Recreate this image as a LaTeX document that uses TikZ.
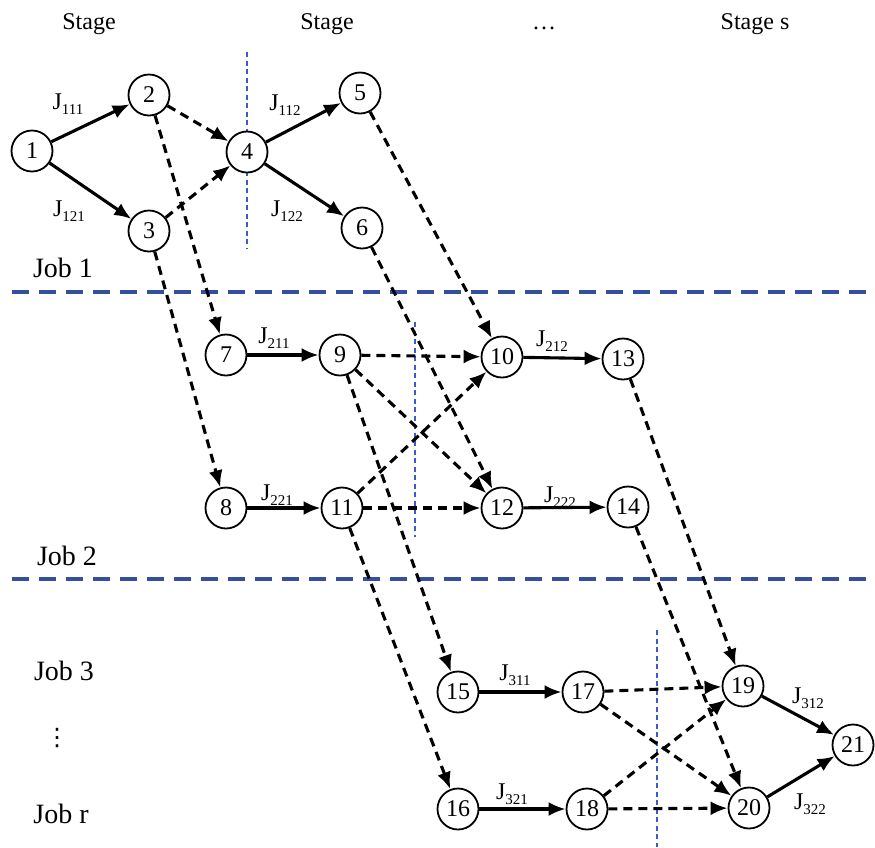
\documentclass[tikz,border=0pt]{standalone}
\usepackage{fontspec}
\setmainfont{Liberation Serif}
\newfontfamily\dotsfont{DejaVu Sans}
\usetikzlibrary{arrows.meta}
\definecolor{jobblue}{RGB}{52,78,160}
\definecolor{stageblue}{RGB}{60,90,200}
\newcommand{\jsub}[2]{#1\raisebox{-0.2em}{\fontsize{15}{15}\selectfont #2}}

\begin{document}
\begin{tikzpicture}[x=1pt,y=-1pt,font=\fontsize{24}{28}\selectfont,
			main node/.style={circle,draw,fill=white,line width=1.8pt,
				minimum size=41pt,inner sep=0pt},
			task/.style={-{Latex[length=17pt,width=14pt]},line width=3.1pt},
			wait/.style={task,dash pattern=on 9pt off 6pt},
			job/.style={anchor=base,font=\fontsize{28}{32}\selectfont},
			job line/.style={jobblue,line width=4.5pt,dash pattern=on 17pt off 10pt},
			stage line/.style={stageblue,line width=2pt,dash pattern=on 5pt off 3.5pt},
			lab/.style={inner sep=0pt}]
			
			\useasboundingbox (0,0) rectangle (875,847);
			
			% stage and job titles
			\node[anchor=base] (S1) at (89,29) {Stage};
			\node[anchor=base] (S2) at (327,29) {Stage};
			\node[anchor=base] (S3) at (544,29) {\ldots};
			\node[anchor=base] (Ss) at (755,29) {Stage s};
			\node[job] (J1) at (63,277) {Job 1};
			\node[job] (J2) at (67,565) {Job 2};
			\node[job] (J3) at (64,680) {Job 3};
			\node (Jd) at (57,738) {\dotsfont ⋮};
			\node[job] (Jr) at (61,823) {Job r};
			
			% separators
			\coordinate (H1a) at (12,292); \coordinate (H1b) at (866,292);
			\coordinate (H2a) at (12,579); \coordinate (H2b) at (866,579);
			\coordinate (V1a) at (247,52);  \coordinate (V1b) at (247,248);
			\coordinate (V2a) at (415,322); \coordinate (V2b) at (415,537);
			\coordinate (V3a) at (657,630); \coordinate (V3b) at (657,847);
			\draw[job line] (H1a) -- (H1b);
			\draw[job line] (H2a) -- (H2b);
			\draw[stage line] (V1a) -- (V1b);
			\draw[stage line] (V2a) -- (V2b);
			\draw[stage line] (V3a) -- (V3b);
			
			% operations
			\node[main node] (1) at (32,151) {1};
			\node[main node] (2) at (149,95) {2};
			\node[main node] (3) at (149,231) {3};
			\node[main node] (4) at (247,152) {4};
			\node[main node] (5) at (360,93) {5};
			\node[main node] (6) at (362,228) {6};
			\node[main node] (7) at (226,355) {7};
			\node[main node] (9) at (340,355) {9};
			\node[main node] (10) at (502,357) {10};
			\node[main node] (13) at (623,359) {13};
			\node[main node] (8) at (226,508) {8};
			\node[main node] (11) at (342,508) {11};
			\node[main node] (12) at (502,508) {12};
			\node[main node] (14) at (628,507) {14};
			\node[main node] (15) at (458,692) {15};
			\node[main node] (17) at (583,692) {17};
			\node[main node] (19) at (743,686) {19};
			\node[main node] (16) at (458,809) {16};
			\node[main node] (18) at (587,809) {18};
			\node[main node] (20) at (749,808) {20};
			\node[main node] (21) at (853,745) {21};
			
			% processing arcs
			\path[task]
			(1) edge (2)
			(1) edge (3)
			(4) edge (5)
			(4) edge (6)
			(7) edge (9)
			(8) edge (11)
			(10) edge (13)
			(12) edge (14)
			(15) edge (17)
			(16) edge (18)
			(19) edge (21)
			(20) edge (21);
			
			% precedence arcs
			\path[wait]
			(2) edge (4)
			(3) edge (4)
			(2) edge (7)
			(3) edge (8)
			(5) edge (10)
			(6) edge (12)
			(9) edge (10)
			(9) edge (12)
			(11) edge (10)
			(11) edge (12)
			(9) edge (15)
			(11) edge (16)
			(13) edge (19)
			(14) edge (20)
			(17) edge (19)
			(17) edge (20)
			(18) edge (19)
			(18) edge (20);
			
			% arc labels
			\node[lab] (L111) at (68,104) {\jsub{J}{111}};
			\node[lab] (L121) at (69,211) {\jsub{J}{121}};
			\node[lab] (L112) at (285,105) {\jsub{J}{112}};
			\node[lab] (L122) at (287,211) {\jsub{J}{122}};
			\node[lab] (L211) at (274,338) {\jsub{J}{211}};
			\node[lab] (L221) at (277,495) {\jsub{J}{221}};
			\node[lab] (L212) at (552,341) {\jsub{J}{212}};
			\node[lab] (L222) at (560,497) {\jsub{J}{222}};
			\node[lab] (L311) at (515,675) {\jsub{J}{311}};
			\node[lab] (L321) at (512,794) {\jsub{J}{321}};
			\node[lab] (L312) at (808,698) {\jsub{J}{312}};
			\node[lab] (L322) at (810,804) {\jsub{J}{322}};
		\end{tikzpicture}
\end{document}
